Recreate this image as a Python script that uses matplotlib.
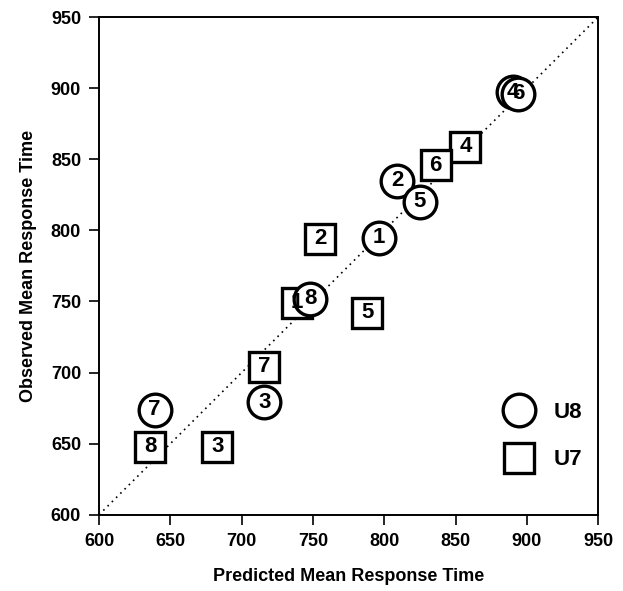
import matplotlib
matplotlib.use("Agg")
import matplotlib.pyplot as plt
from matplotlib.lines import Line2D

plt.rcParams["font.family"] = ["Liberation Sans", "DejaVu Sans"]

# condition U8 (circles) and U7 (squares), labelled by item number
u8_labels = ["1", "2", "3", "4", "5", "6", "7", "8"]
u8_pred = [796, 809, 716, 890, 825, 894, 639, 748]
u8_obs = [795, 835, 679, 897, 820, 896, 674, 752]

u7_labels = ["1", "2", "3", "4", "5", "6", "7", "8"]
u7_pred = [739, 755, 683, 857, 788, 836, 716, 636]
u7_obs = [749, 794, 648, 859, 742, 846, 704, 648]

ticks = [600, 650, 700, 750, 800, 850, 900, 950]

fig = plt.figure(figsize=(6.23, 5.91), dpi=100)
ax = fig.add_axes([0.159, 0.129, 0.801, 0.842])

ax.plot([600, 950], [600, 950], color="black", linestyle=(0, (1, 2.6)),
        linewidth=1.2, zorder=1)

base_kw = dict(markerfacecolor="white", markeredgecolor="black",
               markeredgewidth=2.4, linestyle="none")
circ_kw = dict(marker="o", markersize=23.5, **base_kw)
sq_kw = dict(marker="s", markersize=22, **base_kw)

for x, y in zip(u7_pred, u7_obs):
    ax.plot(x, y, zorder=2, **sq_kw)
for x, y in zip(u8_pred, u8_obs):
    ax.plot(x, y, zorder=3, **circ_kw)

# item numbers sit above all markers
for lab, x, y in zip(u7_labels + u8_labels, u7_pred + u8_pred, u7_obs + u8_obs):
    ax.text(x, y, lab, ha="center", va="center", fontsize=16,
            fontweight="bold", zorder=5)

handles = [Line2D([], [], **circ_kw), Line2D([], [], **sq_kw)]
leg = ax.legend(handles, ["U8", "U7"], loc="lower right", frameon=False,
                fontsize=16, handletextpad=0.56, labelspacing=1.2,
                bbox_to_anchor=(1.009, 0.049))
for t in leg.get_texts():
    t.set_fontweight("bold")

ax.set_xlim(600, 950)
ax.set_ylim(600, 950)
ax.set_xticks(ticks)
ax.set_yticks(ticks)
ax.tick_params(direction="out", length=7, width=1.2, pad=6, labelsize=13)
for t in ax.get_xticklabels() + ax.get_yticklabels():
    t.set_fontweight("bold")
for s in ax.spines.values():
    s.set_linewidth(1.4)

ax.set_xlabel("Predicted Mean Response Time", fontsize=13, fontweight="bold",
              labelpad=13)
ax.set_ylabel("Observed Mean Response Time", fontsize=13, fontweight="bold",
              labelpad=10)

fig.savefig("out.png", dpi=100)
